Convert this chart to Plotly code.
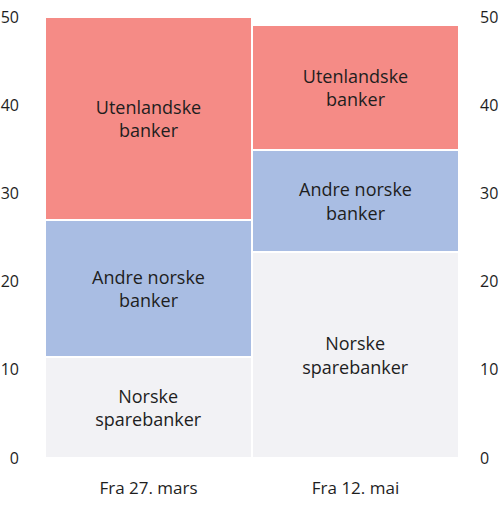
import plotly.graph_objects as go

categories = ["Fra 27. mars", "Fra 12. mai"]
series_names = ["Norske<br>sparebanker", "Andre norske<br>banker", "Utenlandske<br>banker"]
sparebanker = [11.5, 23.4]
andre_norske = [15.5, 11.5]
utenlandske = [23.0, 14.2]
colors = ["#f2f2f5", "#a9bde3", "#f58b86"]
y_ticks = [0, 10, 20, 30, 40, 50]

FONT = "Open Sans"
fig = go.Figure()
for name, vals, col in zip(series_names, [sparebanker, andre_norske, utenlandske], colors):
    fig.add_trace(go.Bar(
        x=categories, y=vals, name=name,
        marker=dict(color=col, line=dict(color="white", width=2)),
        text=[name] * len(vals), texttemplate="%{text}",
        textposition="inside", insidetextanchor="middle",
        textangle=0,
        textfont=dict(family=FONT, size=18, color="#1e1e1e"),
        hoverinfo="skip",
    ))
# invisible trace for the right-hand axis
fig.add_trace(go.Scatter(x=categories, y=[0, 0], yaxis="y2", mode="markers",
                         marker=dict(opacity=0), showlegend=False, hoverinfo="skip"))

axis_common = dict(range=[0, 50], tickvals=y_ticks, showgrid=False, zeroline=False,
                   showline=False, ticks="", automargin=False,
                   tickfont=dict(family=FONT, size=16, color="#1e1e1e"), fixedrange=True)

fig.update_layout(
    width=500, height=506,
    margin=dict(l=45, r=41, t=17, b=48),
    barmode="stack", bargap=0,
    showlegend=False,
    plot_bgcolor="white", paper_bgcolor="white",
    uniformtext=dict(mode="show", minsize=10),
    xaxis=dict(showgrid=False, showline=False, ticks="", ticklabelstandoff=18,
               automargin=False, fixedrange=True,
               tickfont=dict(family=FONT, size=17, color="#1e1e1e")),
    yaxis=dict(side="left", ticklabelstandoff=25, **axis_common),
    yaxis2=dict(side="right", overlaying="y", ticklabelstandoff=20, **axis_common),
)

fig.write_html("out.html", config={"displayModeBar": False},
               post_script="document.body.style.margin='0';document.body.style.overflow='hidden';")
